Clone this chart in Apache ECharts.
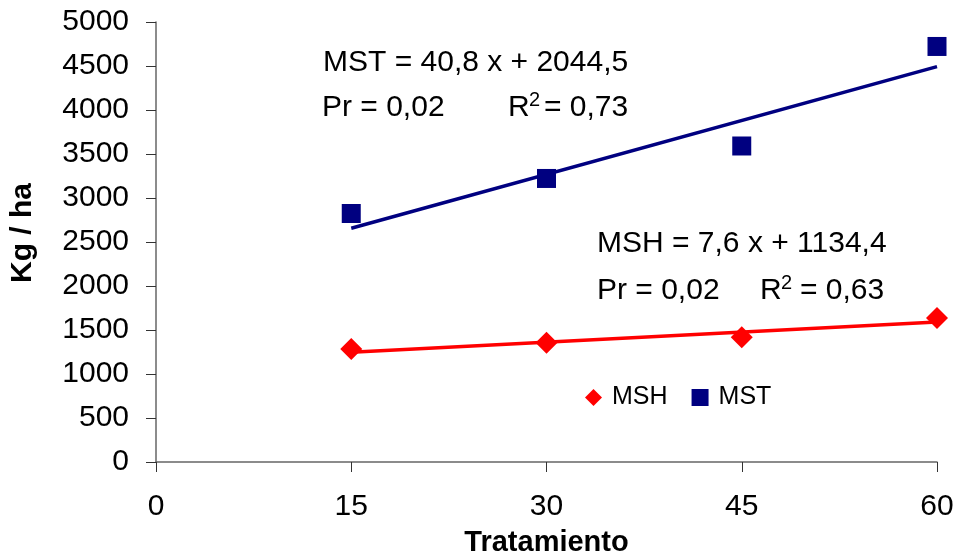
<!DOCTYPE html>
<html>
<head>
<meta charset="utf-8">
<script src="https://cdn.jsdelivr.net/npm/echarts@6/dist/echarts.min.js"></script>
<style>
  html, body { margin: 0; padding: 0; background: #fff; }
  #chart { width: 957px; height: 553px; }
</style>
</head>
<body>
<div id="chart"></div>
<script>
// Dry matter yield per treatment
const tratamientos = [15, 30, 45, 60];
const msh = [1284, 1356, 1417, 1636];
const mst = [2824, 3222, 3591, 4722];

// Linear fits: [slope, intercept]
const mshFit = [7.6, 1134.4];
const mstFit = [40.8, 2044.5];
const fitRange = [15, 60];

const FONT = '"Liberation Sans", Arial, sans-serif';

function fitLine(fit) {
  return fitRange.map(x => [x, fit[0] * x + fit[1]]);
}

const chart = echarts.init(document.getElementById('chart'), null, { renderer: 'canvas' });

const label = (text, x, y, size) => ({
  type: 'text', x: x, y: y, silent: true,
  style: { text: text, font: (size || 30) + 'px ' + FONT, fill: '#000', verticalAlign: 'middle', align: 'left' }
});

chart.setOption({
  animation: false,
  backgroundColor: '#fff',
  grid: { left: 156, right: 20, top: 22, bottom: 91, containLabel: false, outerBoundsMode: 'none' },
  xAxis: {
    type: 'value', min: 0, max: 60, interval: 15,
    name: 'Tratamiento', nameLocation: 'middle', nameGap: 66,
    nameTextStyle: { fontFamily: FONT, fontSize: 29, fontWeight: 'bold', color: '#000' },
    axisLine: { show: true, lineStyle: { color: '#666', width: 1.5 } },
    axisTick: { show: true, length: 10, lineStyle: { color: '#333', width: 1 } },
    axisLabel: { fontFamily: FONT, fontSize: 30, color: '#000', margin: 30 },
    splitLine: { show: false }
  },
  yAxis: {
    type: 'value', min: 0, max: 5000, interval: 500,
    axisLine: { show: true, lineStyle: { color: '#666', width: 1.5 } },
    axisTick: { show: true, length: 10, lineStyle: { color: '#333', width: 1 } },
    axisLabel: { fontFamily: FONT, fontSize: 30, color: '#000', margin: 27, formatter: v => String(v) },
    splitLine: { show: false }
  },
  legend: {
    left: 580, top: 380, orient: 'horizontal',
    itemWidth: 17, itemHeight: 17, itemGap: 24,
    textStyle: { fontFamily: FONT, fontSize: 25, color: '#000', padding: [0, 0, 0, 5] },
    data: [
      { name: 'MSH', icon: 'diamond' },
      { name: 'MST', icon: 'rect' }
    ]
  },
  series: [
    {
      name: 'MSH trend', type: 'line', data: fitLine(mshFit), symbol: 'none',
      lineStyle: { color: '#FF0000', width: 3.5 }, silent: true, z: 2
    },
    {
      name: 'MST trend', type: 'line', data: fitLine(mstFit), symbol: 'none',
      lineStyle: { color: '#000080', width: 3.5 }, silent: true, z: 2
    },
    {
      name: 'MSH', type: 'scatter', symbol: 'diamond', symbolSize: 22,
      itemStyle: { color: '#FF0000', opacity: 1 }, z: 3,
      data: tratamientos.map((x, i) => [x, msh[i]])
    },
    {
      name: 'MST', type: 'scatter', symbol: 'rect', symbolSize: 19,
      itemStyle: { color: '#000080', opacity: 1 }, z: 3,
      data: tratamientos.map((x, i) => [x, mst[i]])
    }
  ],
  graphic: [
    // Y axis title
    {
      type: 'text', x: 23, y: 233, rotation: Math.PI / 2, silent: true,
      style: { text: 'Kg / ha', font: 'bold 30px ' + FONT, fill: '#000', align: 'center', verticalAlign: 'middle' }
    },
    // MST regression
    label('MST = 40,8 x + 2044,5', 323, 63),
    label('Pr = 0,02', 322, 108),
    label('R', 508, 108),
    label('2', 529, 100, 20),
    label('= 0,73', 544, 108),
    // MSH regression
    label('MSH = 7,6 x + 1134,4', 597, 244),
    label('Pr = 0,02', 597, 291),
    label('R', 760, 291),
    label('2', 781, 283, 20),
    label('= 0,63', 800, 291)
  ]
});
</script>
</body>
</html>
